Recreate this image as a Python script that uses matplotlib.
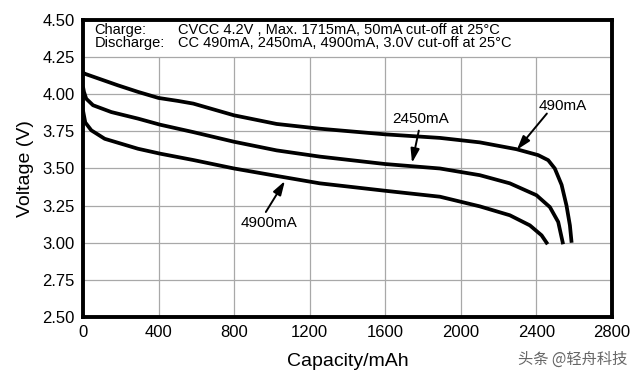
import matplotlib
matplotlib.use("Agg")
import matplotlib.pyplot as plt

plt.rcParams['font.family'] = ['Liberation Sans', 'DejaVu Sans']

# Data
cap_490 = [0, 5, 185, 291, 400, 503, 584, 800, 1025, 1254, 1600, 1890, 2101, 2295, 2410,
           2463, 2498, 2534, 2560, 2578, 2587]
v_490 = [4.15, 4.14, 4.06, 4.016, 3.975, 3.955, 3.937, 3.858, 3.80, 3.768, 3.73, 3.706, 3.676,
         3.63, 3.59, 3.556, 3.50, 3.39, 3.25, 3.117, 3.0]

cap_2450 = [0, 5, 17, 53, 150, 291, 408, 584, 800, 1025, 1254, 1600, 1890, 2101, 2260, 2401,
            2472, 2516, 2542]
v_2450 = [4.05, 4.016, 3.97, 3.926, 3.88, 3.836, 3.795, 3.745, 3.68, 3.622, 3.58, 3.53, 3.50,
          3.455, 3.40, 3.32, 3.24, 3.14, 2.99]

cap_4900 = [0, 12, 44, 115, 291, 408, 584, 800, 1025, 1254, 1600, 1890, 2101, 2260, 2366,
            2428, 2460]
v_4900 = [3.89, 3.81, 3.757, 3.70, 3.633, 3.60, 3.557, 3.50, 3.45, 3.40, 3.35, 3.31, 3.245,
          3.185, 3.117, 3.05, 2.99]

xticks = [0, 400, 800, 1200, 1600, 2000, 2400, 2800]
yticks = [2.50, 2.75, 3.00, 3.25, 3.50, 3.75, 4.00, 4.25, 4.50]
grid_top = 4.25

charge_text = "CVCC 4.2V , Max. 1715mA, 50mA cut-off at 25\u00b0C"
discharge_text = "CC 490mA, 2450mA, 4900mA, 3.0V cut-off at 25\u00b0C"

fig = plt.figure(figsize=(6.4, 3.81), dpi=100)
fig.patch.set_facecolor("white")
ax = fig.add_axes([0.1297, 0.168, 0.8263, 0.7795])
ax.set_xlim(0, 2800)
ax.set_ylim(2.5, 4.5)

# grid (vertical lines only below the header band)
ax.vlines(xticks[1:-1], 2.5, grid_top, color="#a8a8a8", lw=0.9, zorder=1)
ax.hlines(yticks[1:-1], 0, 2800, color="#a8a8a8", lw=0.9, zorder=1)

for c, v in [(cap_490, v_490), (cap_2450, v_2450), (cap_4900, v_4900)]:
    ax.plot(c, v, color="black", lw=2.7, solid_capstyle="butt", solid_joinstyle="round", zorder=3)

ax.set_xticks(xticks)
ax.set_yticks(yticks)
ax.set_xticklabels([str(t) for t in xticks])
ax.set_yticklabels([f"{t:.2f}" for t in yticks])
ax.tick_params(length=0, labelsize=12, pad=6)
for s in ax.spines.values():
    s.set_linewidth(2.8)
    s.set_color("black")

ax.set_xlabel("Capacity/mAh", fontsize=14, labelpad=9)
ax.set_ylabel("Voltage (V)", fontsize=14, labelpad=6)

# header text
ax.text(62, 4.432, "Charge:", fontsize=10.5, va="center", ha="left")
ax.text(62, 4.345, "Discharge:", fontsize=10.5, va="center", ha="left")
ax.text(503, 4.432, charge_text, fontsize=10.5, va="center", ha="left")
ax.text(503, 4.345, discharge_text, fontsize=10.5, va="center", ha="left")

arrowprops = dict(arrowstyle="-|>,head_length=0.7,head_width=0.22", color="black", lw=1.4,
                  mutation_scale=12, shrinkA=0, shrinkB=0)

ax.text(1790, 3.836, "2450mA", fontsize=11, ha="center", va="center")
ax.annotate("", xy=(1742, 3.538), xytext=(1778, 3.755), arrowprops=arrowprops)

ax.text(2541, 3.92, "490mA", fontsize=11, ha="center", va="center")
ax.annotate("", xy=(2297, 3.626), xytext=(2456, 3.87), arrowprops=arrowprops)

ax.text(984, 3.133, "4900mA", fontsize=11, ha="center", va="center")
ax.annotate("", xy=(1069, 3.416), xytext=(968, 3.207), arrowprops=arrowprops)

fig.text(0.981, 0.035, "头条 @轻舟科技", fontsize=11, color="#666666", ha="right", va="bottom",
         family=["Noto Sans CJK SC", "DejaVu Sans"])

fig.savefig("out.png", dpi=100, facecolor="white")
